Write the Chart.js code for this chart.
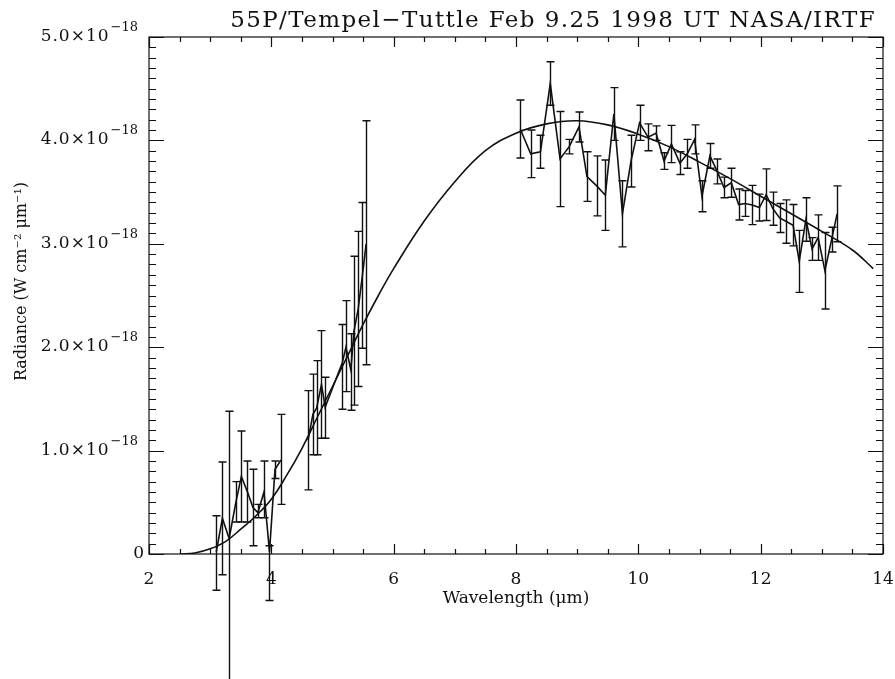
<!DOCTYPE html>
<html>
<head>
<meta charset="utf-8">
<script src="https://cdn.jsdelivr.net/npm/chart.js@4"></script>
<style>
  html, body { margin: 0; padding: 0; background: #fff; }
  #wrap { width: 895px; height: 679px; }
</style>
</head>
<body>
<div id="wrap"><canvas id="chart" width="895" height="679"></canvas></div>
<script>
// radiance values are in units of 1e-18 W cm^-2 um^-1
const wavelength = [
  3.10, 3.20, 3.31, 3.42, 3.51, 3.61, 3.70, 3.78, 3.88, 3.97, 4.06, 4.16,
  4.60, 4.68, 4.74, 4.82, 4.88, 5.16, 5.22, 5.30, 5.35, 5.42, 5.49, 5.55,
  8.07, 8.24, 8.40, 8.56, 8.72, 8.87, 9.03, 9.16, 9.32, 9.46, 9.60, 9.74, 9.88,
  10.02, 10.16, 10.29, 10.42, 10.54, 10.68, 10.80, 10.92, 11.04, 11.17, 11.29,
  11.40, 11.52, 11.64, 11.75, 11.86, 11.98, 12.09, 12.20, 12.31, 12.42, 12.53,
  12.63, 12.74, 12.84, 12.94, 13.05, 13.16, 13.25
];
const radiance = [
  0.02, 0.345, 0.15, 0.50, 0.75, 0.60, 0.45, 0.40, 0.60, 0.02, 0.82, 0.91,
  1.10, 1.35, 1.41, 1.64, 1.42, 1.85, 2.00, 1.78, 2.15, 2.37, 2.70, 3.00,
  4.11, 3.87, 3.89, 4.55, 3.82, 3.94, 4.13, 3.65, 3.56, 3.47, 4.255, 3.29, 3.80,
  4.17, 4.03, 4.07, 3.80, 3.965, 3.78, 3.87, 4.01, 3.46, 3.85, 3.70,
  3.545, 3.59, 3.38, 3.39, 3.375, 3.35, 3.475, 3.34, 3.25, 3.215, 3.18,
  2.83, 3.235, 2.95, 3.06, 2.74, 3.04, 3.29
];
const radianceLow = [
  -0.35, -0.20, -1.25, 0.31, 0.31, 0.31, 0.08, 0.35, 0.35, -0.45, 0.73, 0.48,
  0.62, 0.96, 0.96, 1.12, 1.12, 1.40, 1.57, 1.39, 1.44, 1.62, 1.99, 1.83,
  3.83, 3.64, 3.73, 4.34, 3.36, 3.87, 3.985, 3.41, 3.27, 3.13, 4.00, 2.97, 3.55,
  4.00, 3.90, 4.00, 3.72, 3.785, 3.67, 3.73, 3.87, 3.31, 3.73, 3.58,
  3.445, 3.45, 3.23, 3.265, 3.185, 3.22, 3.225, 3.18, 3.11, 3.005, 2.98,
  2.53, 3.025, 2.84, 2.84, 2.37, 2.92, 3.02
];
const radianceHigh = [
  0.37, 0.89, 1.38, 0.70, 1.19, 0.90, 0.82, 0.48, 0.90, 0.08, 0.90, 1.35,
  1.58, 1.74, 1.87, 2.16, 1.71, 2.22, 2.45, 2.13, 2.88, 3.12, 3.40, 4.19,
  4.39, 4.10, 4.05, 4.76, 4.28, 4.01, 4.275, 3.89, 3.85, 3.81, 4.51, 3.61, 4.05,
  4.34, 4.16, 4.14, 3.88, 4.145, 3.89, 4.01, 4.15, 3.61, 3.97, 3.82,
  3.645, 3.73, 3.53, 3.515, 3.565, 3.48, 3.725, 3.50, 3.39, 3.425, 3.38,
  3.13, 3.445, 3.06, 3.28, 3.11, 3.16, 3.56
];

// model curve
const fitWavelength = [
  2.5, 2.75, 3.0, 3.25, 3.5, 3.75, 4.0, 4.25, 4.5, 4.75, 5.0, 5.25, 5.5, 5.75,
  6.0, 6.5, 7.0, 7.5, 8.0, 8.5, 9.0, 9.5, 10.0, 10.5, 11.0, 11.5, 12.0, 12.5,
  13.0, 13.5, 13.84
];
const fitRadiance = [
  0.0, 0.01, 0.05, 0.12, 0.24, 0.37, 0.53, 0.76, 1.02, 1.32, 1.62, 1.92, 2.22, 2.50,
  2.76, 3.22, 3.60, 3.90, 4.07, 4.16, 4.19, 4.15, 4.06, 3.94, 3.79, 3.63, 3.46, 3.29,
  3.12, 2.94, 2.76
];

const xTickValues = [2, 4, 6, 8, 10, 12, 14];
const yTickValues = [0, 1, 2, 3, 4, 5];
const yExponent = '\u221218';
const titleText = '55P/Tempel\u2212Tuttle Feb 9.25 1998 UT NASA/IRTF';

const FONT = "'DejaVu Serif', serif";
const INK = '#111';

const toPoints = (xs, ys) => xs.map((x, i) => ({ x, y: ys[i] }));

// error bars, box ticks and the odd labels IDL draws
const idlPlot = {
  id: 'idlPlot',
  afterDatasetsDraw(chart) {
    const { ctx, scales: { x, y } } = chart;
    ctx.save();
    ctx.strokeStyle = INK;
    ctx.lineWidth = 1.4;
    wavelength.forEach((w, i) => {
      const px = Math.round(x.getPixelForValue(w)) + 0.5;
      const top = y.getPixelForValue(radianceHigh[i]);
      const bot = y.getPixelForValue(radianceLow[i]);
      ctx.beginPath();
      ctx.moveTo(px, top); ctx.lineTo(px, bot);
      ctx.moveTo(px - 4, top); ctx.lineTo(px + 4, top);
      ctx.moveTo(px - 4, bot); ctx.lineTo(px + 4, bot);
      ctx.stroke();
    });
    ctx.restore();
  },
  afterDraw(chart) {
    const { ctx, chartArea: a, scales: { x, y } } = chart;
    ctx.save();
    ctx.strokeStyle = INK;
    ctx.lineWidth = 1.2;
    ctx.strokeRect(a.left, a.top, a.right - a.left, a.bottom - a.top);

    ctx.beginPath();
    for (let v = 2; v <= 14.001; v += 0.5) {
      const px = Math.round(x.getPixelForValue(v)) + 0.5;
      const len = Math.abs(v % 2) < 0.01 ? 10 : 5;
      ctx.moveTo(px, a.bottom); ctx.lineTo(px, a.bottom - len);
      ctx.moveTo(px, a.top); ctx.lineTo(px, a.top + len);
    }
    for (let k = 0; k <= 50; k++) {
      const py = Math.round(y.getPixelForValue(k / 10)) + 0.5;
      const len = k % 10 === 0 ? 15 : 7;
      ctx.moveTo(a.left, py); ctx.lineTo(a.left + len, py);
      ctx.moveTo(a.right, py); ctx.lineTo(a.right - len, py);
    }
    ctx.stroke();

    ctx.fillStyle = INK;
    ctx.textBaseline = 'alphabetic';
    ctx.textAlign = 'right';
    yTickValues.forEach(v => {
      const py = y.getPixelForValue(v);
      if (v === 0) {
        ctx.font = '17px ' + FONT;
        ctx.fillText('0', a.left - 5, py + 4);
        return;
      }
      ctx.letterSpacing = '0px';
      ctx.font = '13px ' + FONT;
      ctx.fillText(yExponent, a.left - 11, py - 6);
      const supW = ctx.measureText(yExponent).width;
      ctx.font = '17px ' + FONT;
      ctx.letterSpacing = '1px';
      ctx.fillText(v.toFixed(1) + '\u00d710', a.left - 12 - supW, py + 4);
    });

    ctx.font = '23px ' + FONT;
    ctx.letterSpacing = '1.4px';
    ctx.fillText(titleText, a.right - 7, 27);
    ctx.letterSpacing = '0px';

    ctx.translate(26, (a.top + a.bottom) / 2 - 14);
    ctx.rotate(-Math.PI / 2);
    ctx.textAlign = 'center';
    ctx.font = '16px ' + FONT;
    ctx.fillText('Radiance (W cm\u207b\u00b2 \u03bcm\u207b\u00b9)', 0, 0);
    ctx.restore();
  }
};

new Chart(document.getElementById('chart'), {
  type: 'scatter',
  data: {
    datasets: [
      {
        label: 'model',
        data: toPoints(fitWavelength, fitRadiance),
        showLine: true,
        borderColor: INK,
        borderWidth: 1.6,
        pointRadius: 0,
        tension: 0.4
      },
      {
        label: '55P/Tempel-Tuttle',
        data: toPoints(wavelength, radiance),
        showLine: true,
        borderColor: INK,
        borderWidth: 1.6,
        pointRadius: 0,
        clip: false,
        segment: {
          borderColor: c => (c.p1.parsed.x - c.p0.parsed.x > 0.35 ? 'transparent' : INK)
        }
      }
    ]
  },
  options: {
    responsive: false,
    animation: false,
    devicePixelRatio: 1,
    layout: { padding: { top: 37, right: 12, left: 0, bottom: 70 } },
    plugins: { legend: { display: false }, tooltip: { enabled: false } },
    scales: {
      x: {
        type: 'linear',
        min: 2,
        max: 14,
        afterBuildTicks: s => { s.ticks = xTickValues.map(value => ({ value })); },
        afterFit: s => { s.height = 55; s.paddingLeft = 0; s.paddingRight = 0; },
        grid: { display: false },
        border: { display: false },
        ticks: { color: INK, font: { family: FONT, size: 17 }, padding: 7, maxRotation: 0 },
        title: {
          display: true,
          text: 'Wavelength (\u03bcm)',
          color: INK,
          font: { family: FONT, size: 17 },
          padding: { top: 0, bottom: 0 }
        }
      },
      y: {
        min: 0,
        max: 5,
        afterBuildTicks: s => { s.ticks = yTickValues.map(value => ({ value })); },
        afterFit: s => { s.width = 149; },
        grid: { display: false },
        border: { display: false },
        ticks: { display: false }
      }
    }
  },
  plugins: [idlPlot]
});
</script>
</body>
</html>
